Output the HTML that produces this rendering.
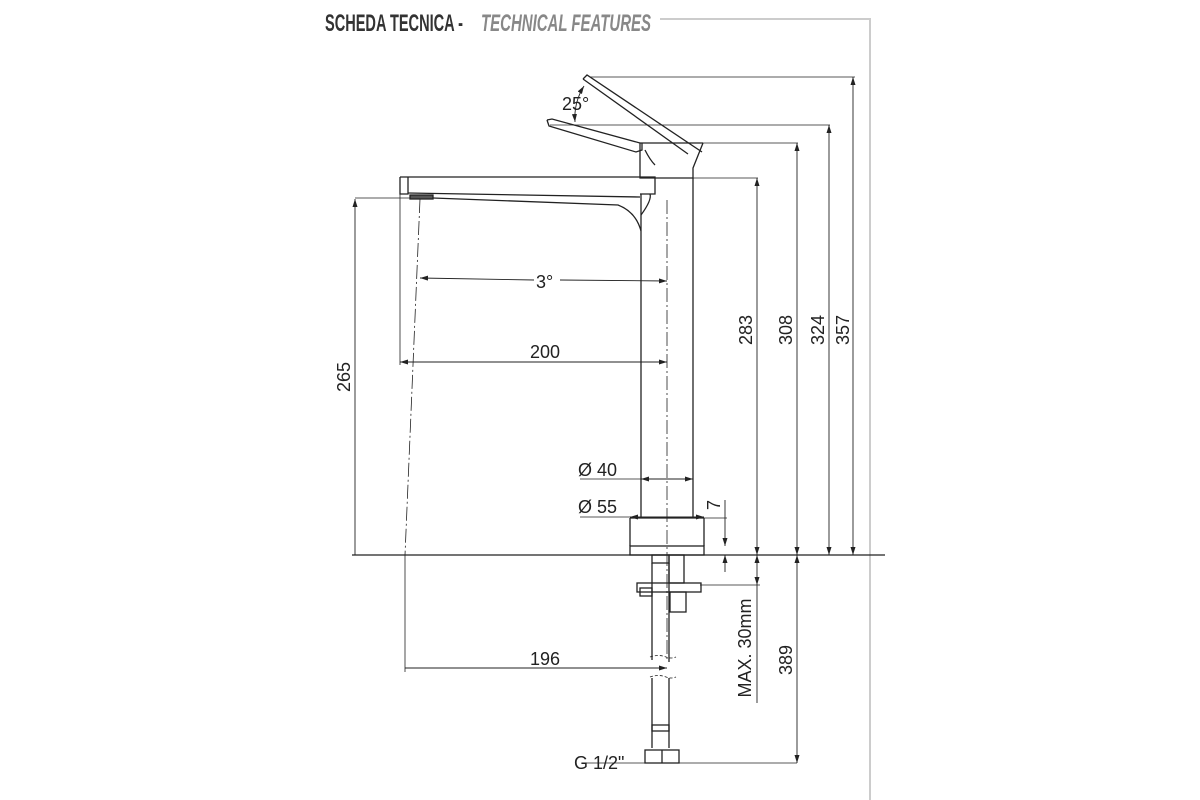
<!DOCTYPE html>
<html><head><meta charset="utf-8"><style>
html,body{margin:0;padding:0;background:#fff}
svg{display:block}
text{font-family:"Liberation Sans",sans-serif;fill:#222}
</style></head><body>
<svg width="1200" height="800" viewBox="0 0 1200 800" xmlns="http://www.w3.org/2000/svg">
<defs>
<marker id="a" viewBox="0 0 8 5" refX="8" refY="2.5" markerWidth="8" markerHeight="5" orient="auto-start-reverse" markerUnits="userSpaceOnUse"><path d="M0,0 L8,2.5 L0,5 z" fill="#222"/></marker>
</defs>
<!-- title -->
<text x="325" y="31" style="font-weight:bold;font-size:24px;fill:#333" textLength="138" lengthAdjust="spacingAndGlyphs">SCHEDA TECNICA -</text>
<text x="481" y="31" style="font-weight:bold;font-style:italic;font-size:24px;fill:#888" textLength="170" lengthAdjust="spacingAndGlyphs">TECHNICAL FEATURES</text>
<polyline points="660,19 870,19 870,800" fill="none" stroke="#ccc" stroke-width="2"/>

<g stroke="#222" stroke-width="1.3" fill="none">
<line x1="352" y1="555" x2="885" y2="555"/>
<!-- spout -->
<path d="M400,177 L655,177 L655,194 L640,194"/>
<path d="M400,177 L400,194 L408,194 L408,177"/>
<path d="M408,193 L640,197"/>
<path d="M433,198 L618,205 Q636,212 641,231"/>
<path d="M641,215 Q652,200 650,194"/>
<rect x="410" y="195" width="23" height="4" fill="#555"/>
<!-- body -->
<line x1="641" y1="194" x2="641" y2="518"/>
<line x1="693" y1="178" x2="693" y2="518"/>
<path d="M630,518 L630,546 M704,518 L704,546 M630,518 L704,518"/>
<rect x="630" y="546" width="74" height="9"/>
<line x1="667" y1="200" x2="667" y2="660" stroke-dasharray="14,3,2,3" stroke-width="0.8"/>
<!-- handle -->
<path d="M640,143 L640,178 L693,178 L693,168 L703,143"/>
<path d="M640,143 L703,143"/>
<path d="M547,120 L549,126 L636,152 L642,150 L642,143"/>
<path d="M547,120 L552,119 L640,143"/>
<path d="M583,79 L587,75 L702,152 M583,79 L688,154"/>
<path d="M645,150 Q650,160 655,165"/>
<!-- lower fittings -->
<rect x="652" y="555" width="17" height="8"/>
<path d="M652,563 L652,660 M669,563 L669,662 M652,678 L652,748 M669,678 L669,748"/>
<path d="M650,657 q8,-3 16,0 q5,2 10,0 M650,677 q8,-3 16,0 q5,2 10,0" stroke-dasharray="3,2" stroke-width="0.8"/>
<rect x="652" y="725" width="17" height="6"/>
<rect x="645" y="750" width="34" height="13"/>
<line x1="662" y1="750" x2="662" y2="763"/>
<rect x="669" y="555" width="15" height="28"/>
<rect x="637" y="583" width="64" height="9"/>
<rect x="640" y="588" width="12" height="8"/>
<rect x="670" y="592" width="16" height="20"/>
<line x1="700" y1="585" x2="760" y2="585" stroke-width="0.8"/>
<line x1="420" y1="199" x2="405" y2="555" stroke-dasharray="14,3,2,3" stroke-width="0.8"/>
<g stroke-width="0.8">
<line x1="355" y1="198" x2="410" y2="198"/>
<line x1="400" y1="194" x2="400" y2="365"/>
<line x1="405" y1="555" x2="405" y2="672"/>
<line x1="590" y1="77" x2="855" y2="77"/>
<line x1="550" y1="125" x2="830" y2="125"/>
<line x1="703" y1="143" x2="798" y2="143"/>
<line x1="693" y1="178" x2="758" y2="178"/>
<line x1="704" y1="518" x2="727" y2="518"/>
<line x1="585" y1="763" x2="797" y2="763"/>
<line x1="580" y1="479" x2="641" y2="479"/>
<line x1="580" y1="517" x2="630" y2="517"/>
</g>
<g stroke-width="0.9">
<line x1="355" y1="555" x2="355" y2="199" marker-end="url(#a)"/>
<line x1="420" y1="278" x2="534" y2="280" marker-start="url(#a)"/>
<line x1="560" y1="280" x2="667" y2="281" marker-end="url(#a)"/>
<line x1="400" y1="362" x2="667" y2="362" marker-start="url(#a)" marker-end="url(#a)"/>
<line x1="641" y1="479" x2="693" y2="479" marker-start="url(#a)" marker-end="url(#a)"/>
<line x1="630" y1="517" x2="704" y2="517" marker-start="url(#a)" marker-end="url(#a)"/>
<line x1="725" y1="500" x2="725" y2="546" marker-end="url(#a)"/>
<line x1="725" y1="572" x2="725" y2="555" marker-end="url(#a)"/>
<line x1="405" y1="668" x2="667" y2="668" marker-end="url(#a)"/>
<line x1="757" y1="178" x2="757" y2="555" marker-start="url(#a)" marker-end="url(#a)"/>
<line x1="757" y1="555" x2="757" y2="585" marker-start="url(#a)" marker-end="url(#a)"/>
<line x1="757" y1="585" x2="757" y2="703"/>
<line x1="797" y1="143" x2="797" y2="555" marker-start="url(#a)" marker-end="url(#a)"/>
<line x1="797" y1="555" x2="797" y2="763" marker-start="url(#a)" marker-end="url(#a)"/>
<line x1="829" y1="125" x2="829" y2="555" marker-start="url(#a)" marker-end="url(#a)"/>
<line x1="853" y1="77" x2="853" y2="555" marker-start="url(#a)" marker-end="url(#a)"/>
<path d="M584,86 A60,60 0 0 0 575,122" marker-start="url(#a)" marker-end="url(#a)"/>
</g>
</g>

<g font-size="18">
<text x="562" y="110">25°</text>
<text x="536" y="288">3°</text>
<text x="530" y="358">200</text>
<text x="578" y="476">Ø 40</text>
<text x="578" y="513">Ø 55</text>
<text x="530" y="665">196</text>
<text x="574" y="769">G 1/2"</text>
<text transform="translate(350,377) rotate(-90)" text-anchor="middle">265</text>
<text transform="translate(752,330) rotate(-90)" text-anchor="middle">283</text>
<text transform="translate(792,330) rotate(-90)" text-anchor="middle">308</text>
<text transform="translate(824,330) rotate(-90)" text-anchor="middle">324</text>
<text transform="translate(849,330) rotate(-90)" text-anchor="middle">357</text>
<text transform="translate(720,505) rotate(-90)" text-anchor="middle">7</text>
<text transform="translate(751,648) rotate(-90)" text-anchor="middle">MAX. 30mm</text>
<text transform="translate(792,660) rotate(-90)" text-anchor="middle">389</text>
</g>
</svg>
</body></html>
